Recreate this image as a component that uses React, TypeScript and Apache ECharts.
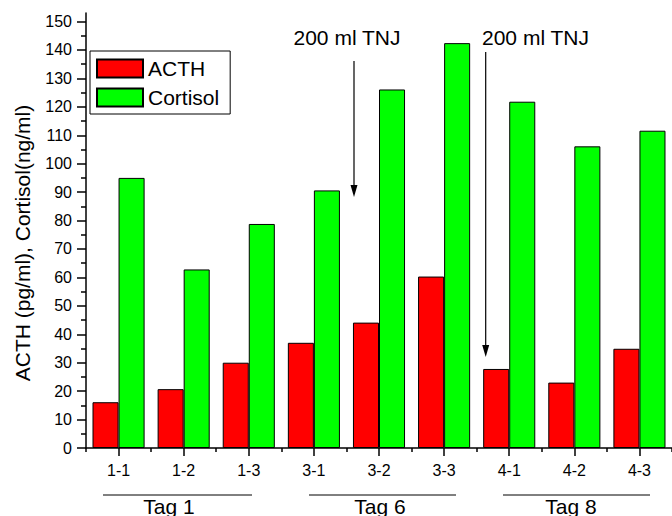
import React, { useEffect, useRef } from "react";
import * as echarts from "echarts";

const categories = ["1-1", "1-2", "1-3", "3-1", "3-2", "3-3", "4-1", "4-2", "4-3"];
const acthValues = [16.1, 20.7, 30.0, 37.0, 44.1, 60.3, 27.8, 23.0, 34.9];
const cortisolValues = [95.0, 62.8, 78.8, 90.6, 126.1, 142.4, 121.8, 106.1, 111.6];
const majorTicks = [0, 10, 20, 30, 40, 50, 60, 70, 80, 90, 100, 110, 120, 130, 140, 150];
const minorTicks = [5, 15, 25, 35, 45, 55, 65, 75, 85, 95, 105, 115, 125, 135, 145];
const seriesNames = ["ACTH", "Cortisol"];
const tagLabels = ["Tag 1", "Tag 6", "Tag 8"];
const annotationText = "200 ml TNJ";
const yTitle = "ACTH (pg/ml), Cortisol(ng/ml)";

const FONT = "'Liberation Sans', Arial, Helvetica, sans-serif";

export default function App() {
  const ref = useRef<HTMLDivElement>(null);

  useEffect(() => {
    if (!ref.current) return;
    const chart = echarts.init(ref.current, null, { renderer: "svg" });

    const tagPos = [
      { x1: 103, x2: 252, tx: 169 },
      { x1: 309, x2: 456, tx: 380 },
      { x1: 503, x2: 650, tx: 571 },
    ];
    const arrows = [
      { x: 354, y1: 61, y2: 197, tx: 347 },
      { x: 485.7, y1: 52, y2: 357, tx: 535.5 },
    ];

    const graphic: any[] = [];
    graphic.push({
      type: "text",
      x: 22,
      y: 243,
      rotation: Math.PI / 2,
      style: {
        text: yTitle,
        font: `21px ${FONT}`,
        fill: "#000",
        align: "center",
        verticalAlign: "middle",
      },
    });
    tagLabels.forEach((t, i) => {
      const p = tagPos[i];
      graphic.push({
        type: "line",
        shape: { x1: p.x1, y1: 495, x2: p.x2, y2: 495 },
        style: { stroke: "#000", lineWidth: 1 },
      });
      graphic.push({
        type: "text",
        x: p.tx,
        y: 506,
        style: {
          text: t,
          font: `21px ${FONT}`,
          fill: "#000",
          align: "center",
          verticalAlign: "middle",
        },
      });
    });
    arrows.forEach((a) => {
      graphic.push({
        type: "line",
        shape: { x1: a.x, y1: a.y1, x2: a.x, y2: a.y2 - 10 },
        style: { stroke: "#000", lineWidth: 1.2 },
      });
      graphic.push({
        type: "polygon",
        shape: {
          points: [
            [a.x - 3.5, a.y2 - 12],
            [a.x + 3.5, a.y2 - 12],
            [a.x, a.y2],
          ],
        },
        style: { fill: "#000" },
      });
      graphic.push({
        type: "text",
        x: a.tx,
        y: 37,
        style: {
          text: annotationText,
          font: `21px ${FONT}`,
          fill: "#000",
          align: "center",
          verticalAlign: "middle",
        },
      });
    });

    chart.setOption({
      animation: false,
      backgroundColor: "#fff",
      textStyle: { fontFamily: FONT },
      grid: { left: 86, right: -8, top: 13, bottom: 68, containLabel: false },
      legend: {
        orient: "vertical",
        left: 90,
        top: 51,
        padding: [7, 11, 6, 6],
        borderColor: "#000",
        borderWidth: 1,
        itemWidth: 46,
        itemHeight: 18,
        itemGap: 8,
        icon: "rect",
        textStyle: { fontSize: 21, color: "#000", fontFamily: FONT },
        data: seriesNames,
      },
      xAxis: [
        {
          type: "category",
          data: categories,
          boundaryGap: true,
          axisLine: { show: true, lineStyle: { color: "#000", width: 1.5 } },
          axisTick: { show: true, alignWithLabel: true, length: 8, lineStyle: { color: "#000", width: 1.5 } },
          axisLabel: { fontSize: 16, color: "#000", margin: 14, fontFamily: FONT },
          splitLine: { show: false },
        },
        {
          type: "category",
          data: categories,
          boundaryGap: true,
          position: "bottom",
          axisLine: { show: false },
          axisTick: { show: true, length: 4, lineStyle: { color: "#000", width: 1.5 } },
          axisLabel: { show: false },
          splitLine: { show: false },
        },
      ],
      yAxis: [
        {
          type: "value",
          min: 0,
          max: 153,
          interval: 10,
          axisLine: { show: true, lineStyle: { color: "#000", width: 1.5 } },
          axisTick: { show: true, length: 9, customValues: majorTicks, lineStyle: { color: "#000", width: 1.5 } },
          axisLabel: { fontSize: 16, color: "#000", margin: 14, customValues: majorTicks, fontFamily: FONT },
          splitLine: { show: false },
        },
        {
          type: "value",
          min: 0,
          max: 153,
          interval: 5,
          position: "left",
          axisLine: { show: false },
          axisTick: { show: true, length: 5, customValues: minorTicks, lineStyle: { color: "#000", width: 1.5 } },
          axisLabel: { show: false },
          splitLine: { show: false },
        },
      ],
      series: [
        {
          name: seriesNames[0],
          type: "bar",
          xAxisIndex: 0,
          yAxisIndex: 0,
          data: acthValues,
          barGap: "0%",
          barCategoryGap: "20%",
          itemStyle: { color: "#ff0000", borderColor: "#000", borderWidth: 1 },
        },
        {
          name: seriesNames[1],
          type: "bar",
          xAxisIndex: 0,
          yAxisIndex: 0,
          data: cortisolValues,
          barGap: "0%",
          barCategoryGap: "20%",
          itemStyle: { color: "#00ff00", borderColor: "#000", borderWidth: 1 },
        },
      ],
      graphic,
    });

    return () => chart.dispose();
  }, []);

  return (
    <div
      ref={ref}
      style={{ position: "fixed", left: 0, top: 0, width: 672, height: 516, background: "#fff" }}
    />
  );
}
